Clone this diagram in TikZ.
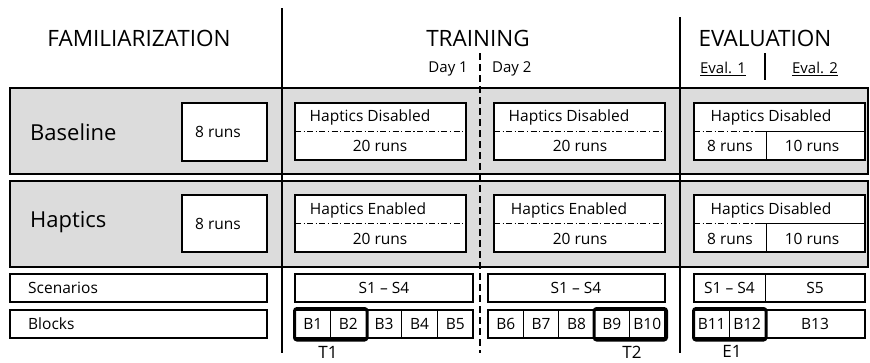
\documentclass[tikz,border=0pt]{standalone}
\usepackage{fontspec}
\setmainfont{Open Sans}
\definecolor{bandgray}{RGB}{220,220,220}
\begin{document}
\begin{tikzpicture}[x=1pt,y=-1pt,
  band/.style={draw, fill=bandgray, line width=1.8pt},
  wbox/.style={draw, fill=white, line width=1.6pt},
  cellline/.style={line width=0.8pt},
  dashdot/.style={line width=0.7pt, dash pattern=on 6pt off 2.5pt on 1.2pt off 2.5pt},
  thickv/.style={line width=2.8pt},
  grp/.style={draw, line width=3pt, rounded corners=2.5pt},
  hdr/.style={font=\fontsize{22.5}{26}\selectfont, inner sep=0pt},
  rowlbl/.style={font=\fontsize{22}{26}\selectfont, inner sep=0pt, anchor=west},
  txt/.style={font=\fontsize{15.5}{18}\selectfont, inner sep=0pt},
  sub/.style={font=\fontsize{15}{18}\selectfont, inner sep=0pt},
  tag/.style={font=\fontsize{17}{20}\selectfont, inner sep=0pt},
]
\useasboundingbox (0,0) rectangle (870,362);

% bands
\path[band] (10,88) rectangle (868,174);
\path[band] (10,181) rectangle (868,267);

% vertical separators
\coordinate (v1t) at (282,8);   \coordinate (v1b) at (282,353);
\coordinate (v2t) at (680,17);  \coordinate (v2b) at (680,353);
\coordinate (vdt) at (480,53);  \coordinate (vdb) at (480,353);
\coordinate (vet) at (765,53);  \coordinate (veb) at (765,80);
\draw[thickv] (v1t) -- (v1b);
\draw[thickv] (v2t) -- (v2b);
\draw[line width=1.6pt, dash pattern=on 7pt off 4pt] (vdt) -- (vdb);
\draw[line width=2.2pt] (vet) -- (veb);

% headers
\node[hdr] (hfam) at (139,38) {FAMILIARIZATION};
\node[hdr] (htr) at (478,38) {TRAINING};
\node[hdr] (hev) at (765,38) {EVALUATION};
\node[sub, anchor=east] (d1) at (468,69) {Day 1};
\node[sub, anchor=west] (d2) at (492,69) {Day 2};
\node[sub] (e1h) at (723,69) {\underline{Eval. 1}};
\node[sub] (e2h) at (815,69) {\underline{Eval. 2}};

% row labels
\node[rowlbl] (lbase) at (30,132) {Baseline};
\node[rowlbl] (lhap) at (30,222) {Haptics};

% ---------- Baseline band ----------
\path[wbox] (182,103) rectangle (267,161);
\node[txt] (fa) at (218,132) {8 runs};

\path[wbox] (295,103) rectangle (466,160);
\draw[dashdot] (295,131) -- (466,131);
\node[txt] (ta1) at (370,117) {Haptics Disabled};
\node[txt] (ta1r) at (380,146) {20 runs};

\path[wbox] (494,103) rectangle (665,160);
\draw[dashdot] (494,131) -- (665,131);
\node[txt] (ta2) at (569,117) {Haptics Disabled};
\node[txt] (ta2r) at (580,146) {20 runs};

\path[wbox] (694,103) rectangle (865,160);
\draw[dashdot] (694,131) -- (755,131);
\draw[cellline] (755,131) -- (865,131);
\draw[cellline] (766,131) -- (766,160);
\node[txt] (ea) at (771,117) {Haptics Disabled};
\node[txt] (ea1) at (730,146) {8 runs};
\node[txt] (ea2) at (812,146) {10 runs};

% ---------- Haptics band ----------
\path[wbox] (182,195) rectangle (267,252);
\node[txt] (fb) at (218,224) {8 runs};

\path[wbox] (295,195) rectangle (466,252);
\draw[dashdot] (295,223) -- (466,223);
\node[txt] (tb1) at (368,210) {Haptics Enabled};
\node[txt] (tb1r) at (380,239) {20 runs};

\path[wbox] (494,195) rectangle (665,252);
\draw[dashdot] (494,223) -- (665,223);
\node[txt] (tb2) at (569,210) {Haptics Enabled};
\node[txt] (tb2r) at (580,239) {20 runs};

\path[wbox] (694,195) rectangle (865,252);
\draw[dashdot] (694,223) -- (755,223);
\draw[cellline] (755,223) -- (865,223);
\draw[cellline] (766,223) -- (766,252);
\node[txt] (eb) at (771,210) {Haptics Disabled};
\node[txt] (eb1) at (730,239) {8 runs};
\node[txt] (eb2) at (812,239) {10 runs};

% ---------- Scenarios row ----------
\path[wbox] (10,274) rectangle (267,302);
\node[txt, anchor=west] (lsc) at (28,288) {Scenarios};
\path[wbox] (295,274) rectangle (473,302);
\node[txt] (sc1) at (384,288) {S1 – S4};
\path[wbox] (488,274) rectangle (665,302);
\node[txt] (sc2) at (576,288) {S1 – S4};
\path[wbox] (694,274) rectangle (865,302);
\draw[cellline] (765,274) -- (765,302);
\node[txt] (sc3) at (729.5,288) {S1 – S4};
\node[txt] (sc4) at (815,288) {S5};

% ---------- Blocks row ----------
\path[wbox] (10,310) rectangle (267,338);
\node[txt, anchor=west] (lbl) at (28,324) {Blocks};

\path[wbox] (295,310) rectangle (473,338);
\foreach \x in {330.6,366.2,401.8,437.4} \draw[cellline] (\x,310) -- (\x,338);
\node[txt] (b1) at (312.8,324) {B1};
\node[txt] (b2) at (348.4,324) {B2};
\node[txt] (b3) at (384,324) {B3};
\node[txt] (b4) at (419.6,324) {B4};
\node[txt] (b5) at (455.2,324) {B5};

\path[wbox] (488,310) rectangle (665,338);
\foreach \x in {523.4,558.8,594.2,629.6} \draw[cellline] (\x,310) -- (\x,338);
\node[txt] (b6) at (505.7,324) {B6};
\node[txt] (b7) at (541.1,324) {B7};
\node[txt] (b8) at (576.5,324) {B8};
\node[txt] (b9) at (611.9,324) {B9};
\node[txt] (b10) at (647.3,324) {B10};

\path[wbox] (694,310) rectangle (865,338);
\foreach \x in {729.5,765} \draw[cellline] (\x,310) -- (\x,338);
\node[txt] (b11) at (711.7,324) {B11};
\node[txt] (b12) at (747.2,324) {B12};
\node[txt] (b13) at (815,324) {B13};

% group frames
\draw[grp] (294.5,308.5) rectangle (367,340);
\draw[grp] (594.2,308.5) rectangle (666.5,340);
\draw[grp] (693.5,308.5) rectangle (766,340);
\node[tag] (t1) at (328,352) {T1};
\node[tag] (t2) at (632,352) {T2};
\node[tag] (ev1) at (732,351) {E1};
\end{tikzpicture}
\end{document}
